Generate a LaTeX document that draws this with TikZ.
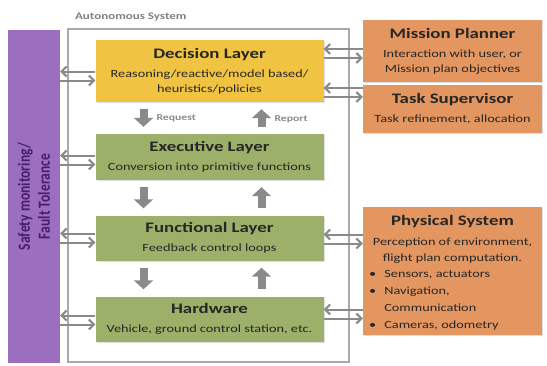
\documentclass[tikz,border=0pt]{standalone}
\usepackage{fontspec}
\setmainfont{Carlito}[FakeStretch=1.3]
\newfontfamily\sidefont{Carlito}[FakeStretch=0.8]
\usetikzlibrary{positioning, arrows.meta, shadows}
\definecolor{decyellow}{RGB}{240,196,66}
\definecolor{laygreen}{RGB}{156,176,106}
\definecolor{extorange}{RGB}{228,150,96}
\definecolor{safepurple}{RGB}{155,110,192}
\definecolor{safetext}{RGB}{72,28,110}
\definecolor{framegray}{RGB}{170,170,170}
\definecolor{arrgray}{RGB}{138,138,138}
\newcommand\ttl{\fontsize{14.5}{18}\selectfont\bfseries}

\begin{document}
\begin{tikzpicture}[x=1pt, y=-1pt,
  box/.style={rectangle, align=center, text=black!85, font=\fontsize{11}{15}\selectfont,
    drop shadow={opacity=.25, shadow xshift=1.2pt, shadow yshift=-1.2pt}},
  layer/.style={box, minimum width=228pt},
  ext/.style={box, fill=extorange, minimum width=179pt},
  blk/.style={draw=arrgray, line width=8pt, -{Triangle[length=9pt,width=19pt]},
    shorten <=7pt, shorten >=7pt},
  dbl/.style={draw=arrgray, line width=2pt, -{Straight Barb[length=5pt,width=10pt]}},
  tag/.style={text=arrgray, font=\fontsize{9}{11}\selectfont\bfseries}]
\useasboundingbox (0,0) rectangle (547,365);

\node[rectangle, fill=safepurple, minimum width=333pt, minimum height=52pt, rotate=90,
  align=center, text=safetext, font=\sidefont\fontsize{17}{20}\selectfont\bfseries]
  (safety) at (34,196.5) {Safety monitoring/\\Fault Tolerance};

\node[rectangle, draw=framegray, line width=2.5pt, minimum width=281pt, minimum height=333pt]
  (auto) at (208.5,195.5) {};
\node[tag, text=gray, font=\fontsize{10}{12}\selectfont\bfseries, anchor=west]
  (autotag) at (71.5,17.5) {Autonomous System};

\node[layer, fill=decyellow, minimum height=62pt] (dec) at (209.5,71)
  {{\ttl Decision Layer}\\[4pt] Reasoning/reactive/model based/\\heuristics/policies};
\node[layer, fill=laygreen, minimum height=46pt] (exe) at (209.5,157)
  {{\ttl Executive Layer}\\[4pt] Conversion into primitive functions};
\node[layer, fill=laygreen, minimum height=45pt] (fun) at (209.5,238)
  {{\ttl Functional Layer}\\[4pt] Feedback control loops};
\node[layer, fill=laygreen, minimum height=45pt] (hw) at (209.5,319)
  {{\ttl Hardware}\\[4pt] Vehicle, ground control station, etc.};

\node[ext, minimum height=62pt] (mp) at (452.5,51)
  {{\ttl Mission Planner}\\[4pt] Interaction with user, or\\Mission plan objectives};
\node[ext, minimum height=48pt] (ts) at (452.5,109)
  {{\ttl Task Supervisor}\\[4pt] Task refinement, allocation};
\node[ext, minimum height=128pt] (ps) at (452.5,271) {};
\node[align=center, text=black!85, font=\fontsize{11}{16}\selectfont] (pstxt) at (452.5,239)
  {{\ttl Physical System}\\[4pt] Perception of environment,\\flight plan computation.};
\node[anchor=west, inner sep=0pt, text=black!85, font=\fontsize{11}{17}\selectfont] (pslist) at (369,300)
  {\begin{tabular}{@{}l@{\hspace{8pt}}l@{}}
    \textbullet & Sensors, actuators\\
    \textbullet & Navigation,\\
                & Communication\\
    \textbullet & Cameras, odometry
  \end{tabular}};

\foreach \a/\b in {dec/exe, exe/fun, fun/hw}{
  \draw[blk] ([xshift=-66pt]\a.south) -- ([xshift=-66pt]\b.north);
  \draw[blk] ([xshift=52pt]\b.north) -- ([xshift=52pt]\a.south);
}
\node[tag, anchor=west] (req) at (153,118) {Request};
\node[tag, anchor=west] (rep) at (271,119) {Report};

\foreach \n/\y in {dec/76, exe/160, fun/238, hw/320}{
  \draw[dbl] (\n.west |- 0,\y-4.5) -- (safety.south |- 0,\y-4.5);
  \draw[dbl] (safety.south |- 0,\y+4.5) -- (\n.west |- 0,\y+4.5);
}
\foreach \n/\m/\y in {dec/mp/53.5, dec/ts/92.5, fun/ps/239, hw/ps/314}{
  \draw[dbl] (\m.west |- 0,\y-4.5) -- (\n.east |- 0,\y-4.5);
  \draw[dbl] (\n.east |- 0,\y+4.5) -- (\m.west |- 0,\y+4.5);
}
\end{tikzpicture}
\end{document}
